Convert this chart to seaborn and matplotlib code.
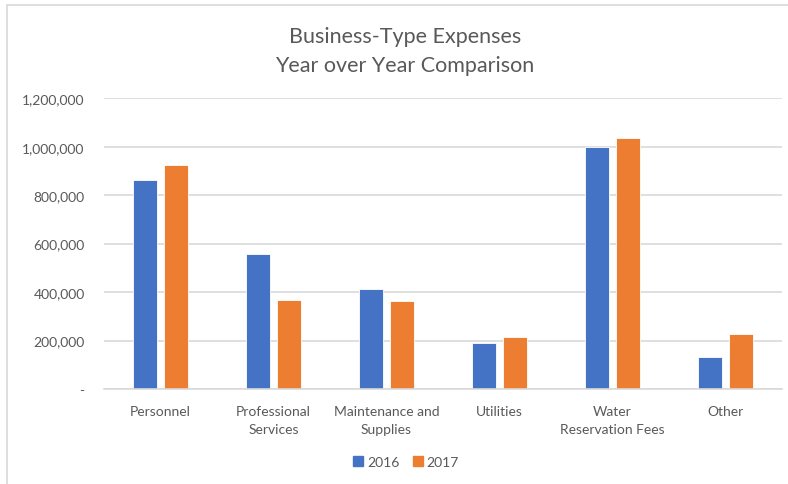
import matplotlib
matplotlib.use("Agg")
import matplotlib.pyplot as plt
import matplotlib.ticker as mticker
from matplotlib.lines import Line2D
import pandas as pd
import seaborn as sns

categories = ["Personnel", "Professional\nServices", "Maintenance and\nSupplies",
              "Utilities", "Water\nReservation Fees", "Other"]
years = ["2016", "2017"]
values_2016 = [864000, 558000, 414000, 188000, 1000000, 134000]
values_2017 = [923000, 366000, 362000, 216000, 1035000, 226000]
y_ticks = [0, 200000, 400000, 600000, 800000, 1000000, 1200000]

df = pd.DataFrame({
    "category": categories * 2,
    "year": [years[0]] * len(categories) + [years[1]] * len(categories),
    "amount": values_2016 + values_2017,
})

sns.set_theme(style="white")
plt.rcParams["font.family"] = ["Lato", "DejaVu Sans"]

text_color = "#595959"
grid_color = "#D9D9D9"
palette = {"2016": "#4472C4", "2017": "#ED7D31"}

fig = plt.figure(figsize=(7.88, 4.85), dpi=100)
ax = fig.add_axes([104 / 788, 1 - 390 / 485, (782 - 104) / 788, (390 - 99.3) / 485])

sns.barplot(data=df, x="category", y="amount", hue="year", palette=palette,
            width=0.566, gap=0.25, saturation=1, ax=ax, legend=False,
            edgecolor="white", linewidth=0.6)

ax.set_ylim(0, 1200000)
ax.set_xlim(-0.5, len(categories) - 0.5)
ax.set_yticks(y_ticks)
ax.yaxis.set_major_formatter(
    mticker.FuncFormatter(lambda v, p: "-" if v == 0 else f"{int(v):,}"))
ax.set_xticks(range(len(categories)))
ax.set_xticklabels(categories, linespacing=1.6)
ax.grid(axis="y", color=grid_color, linewidth=1.2)
ax.set_axisbelow(True)
for side in ["top", "right", "left"]:
    ax.spines[side].set_visible(False)
ax.spines["bottom"].set_color(grid_color)
ax.spines["bottom"].set_linewidth(1.2)
ax.tick_params(axis="both", length=0, colors=text_color, labelsize=10)
ax.tick_params(axis="y", pad=14)
ax.tick_params(axis="x", pad=11.5)
ax.set_xlabel("")
ax.set_ylabel("")

fig.text(0.514, 1 - 37 / 485, "Business-Type Expenses", ha="center", va="center",
         fontsize=15.5, color=text_color)
fig.text(0.514, 1 - 66 / 485, "Year over Year Comparison", ha="center", va="center",
         fontsize=15.5, color=text_color)

handles = [Line2D([], [], marker="s", linestyle="none", markersize=6.5,
                  markerfacecolor=palette[y], markeredgecolor=palette[y]) for y in years]
fig.legend(handles, years, loc="center", bbox_to_anchor=(0.514, 1 - 463 / 485),
           ncol=2, frameon=False, fontsize=10, labelcolor=text_color,
           handletextpad=0.15, columnspacing=0.8, handlelength=1.0)

# Chart frame on the top and left edges
fig.add_artist(Line2D([7 / 788, 1.0], [1 - 6 / 485, 1 - 6 / 485],
                      transform=fig.transFigure, color=grid_color, linewidth=1.2))
fig.add_artist(Line2D([7 / 788, 7 / 788], [0, 1 - 6 / 485],
                      transform=fig.transFigure, color=grid_color, linewidth=1.2))

fig.savefig("out.png", dpi=100, facecolor="white")
